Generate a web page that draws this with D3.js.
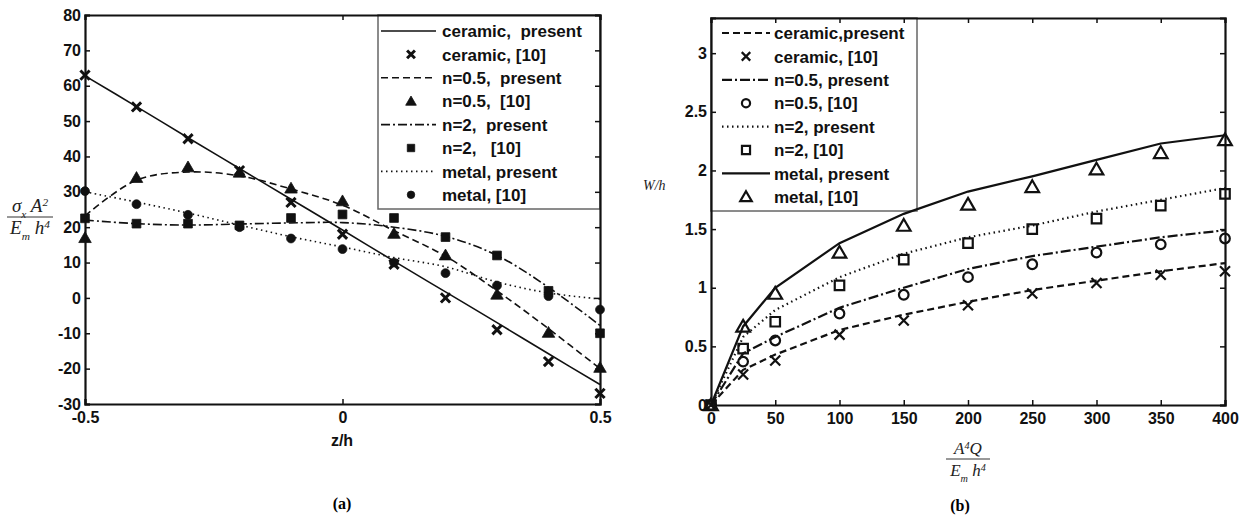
<!DOCTYPE html>
<html>
<head>
<meta charset="utf-8">
<script src="https://cdn.jsdelivr.net/npm/d3@7"></script>
<style>
  body { margin: 0; background: #fff; }
  svg { display: block; }
  .tick text { font-family: "Liberation Sans", Arial, sans-serif; font-weight: bold; font-size: 16px; fill: #111; }
  .lg { font-family: "Liberation Sans", Arial, sans-serif; font-weight: bold; font-size: 17px; fill: #111; white-space: pre; }
  .math { font-family: "Liberation Serif", "Times New Roman", serif; font-style: italic; fill: #222; }
</style>
</head>
<body>
<script>
// ---- panel (a): stress through thickness ----
var zA = [-0.5, -0.4, -0.3, -0.2, -0.1, 0, 0.1, 0.2, 0.3, 0.4, 0.5];
var ceramicPresentA = [62.8, 54.1, 45.3, 36.6, 27.9, 19.2, 10.4, 1.7, -7.0, -15.8, -24.5];
var ceramicRefA     = [63, 54, 45, 36, 27, 18, 9.5, 0, -9, -18, -27];
var n05PresentA     = [23.2, 33.3, 35.6, 34.5, 30.8, 26.2, 19, 11.8, 2, -8.7, -20];
var n05RefA         = [17, 34, 37, 35.5, 31, 27.4, 18.2, 12.1, 1, -9.8, -19.7];
var n2PresentA      = [22, 21, 20.6, 20.9, 21.2, 21.3, 20, 17.4, 12, 3, -7.8];
var n2RefA          = [22.5, 21, 21, 20.5, 22.6, 23.6, 22.6, 17.2, 12, 2, -10];
var metalPresentA   = [30, 27.1, 24, 20.6, 17.3, 14.4, 11.4, 8.8, 4.5, 1.4, -0.3];
var metalRefA       = [30.2, 26.5, 23.5, 20, 16.8, 13.8, 10, 7, 3.5, 0.5, -3.3];
var xTicksA = [-0.5, 0, 0.5];
var yTicksA = [-30, -20, -10, 0, 10, 20, 30, 40, 50, 60, 70, 80];
var legendA = ["ceramic,  present", "ceramic, [10]", "n=0.5,  present", "n=0.5,  [10]",
               "n=2,  present", "n=2,   [10]", "metal, present", "metal, [10]"];

// ---- panel (b): deflection vs load ----
var qB = [0, 25, 50, 100, 150, 200, 250, 300, 350, 400];
var ceramicPresentB = [0, 0.3, 0.43, 0.64, 0.77, 0.88, 0.98, 1.06, 1.14, 1.21];
var ceramicRefB     = [0, 0.26, 0.38, 0.6, 0.72, 0.85, 0.95, 1.04, 1.11, 1.14];
var n05PresentB     = [0, 0.44, 0.58, 0.83, 1.0, 1.16, 1.27, 1.35, 1.43, 1.49];
var n05RefB         = [0, 0.37, 0.55, 0.78, 0.94, 1.09, 1.2, 1.3, 1.37, 1.42];
var n2PresentB      = [0, 0.58, 0.81, 1.09, 1.29, 1.43, 1.53, 1.65, 1.75, 1.85];
var n2RefB          = [0, 0.48, 0.71, 1.02, 1.24, 1.38, 1.5, 1.59, 1.7, 1.8];
var metalPresentB   = [0, 0.67, 1.0, 1.38, 1.63, 1.82, 1.95, 2.09, 2.23, 2.3];
var metalRefB       = [0, 0.67, 0.95, 1.3, 1.53, 1.71, 1.86, 2.01, 2.15, 2.26];
var xTicksB = [0, 50, 100, 150, 200, 250, 300, 350, 400];
var yTicksB = [0, 0.5, 1, 1.5, 2, 2.5, 3];
var legendB = ["ceramic,present", "ceramic, [10]", "n=0.5, present", "n=0.5, [10]",
               "n=2, present", "n=2, [10]", "metal, present", "metal, [10]"];

var svg = d3.select("body").append("svg")
  .attr("width", 1248).attr("height", 517);

var DASH = "7,4", DASHDOT = "9,3,2,3", DOT = "1.5,3.5";

// marker shapes
function marker(g, kind, x, y, filled, sz) {
  var s = sz || 4.5;
  if (kind == "x") {
    g.append("path")
      .attr("d", "M" + (x - s) + "," + (y - s) + "L" + (x + s) + "," + (y + s) +
                 "M" + (x - s) + "," + (y + s) + "L" + (x + s) + "," + (y - s))
      .attr("stroke", "#111").attr("stroke-width", filled ? 3 : 2.2).attr("fill", "none");
    return;
  }
  var sym = { tri: d3.symbolTriangle, sq: d3.symbolSquare, circ: d3.symbolCircle }[kind];
  var area = { tri: s * s * 3.2, sq: s * s * 3.6, circ: s * s * 2.9 }[kind];
  var dy = kind == "tri" ? s * 0.25 : 0;
  g.append("path")
    .attr("d", d3.symbol().type(sym).size(area)())
    .attr("transform", "translate(" + x + "," + (y + dy) + ")")
    .attr("fill", filled ? "#111" : "none")
    .attr("stroke", "#111")
    .attr("stroke-width", filled ? 0.8 : 2.2);
}

function drawPanel(p) {
  var g = svg.append("g");
  var x = d3.scaleLinear().domain(p.xDomain).range([p.x0, p.x1]);
  var y = d3.scaleLinear().domain(p.yDomain).range([p.y0, p.y1]);

  // legend box first so curves pass over the frame edge like in the figure
  var lg = g.append("g");
  lg.append("rect")
    .attr("x", p.lg.x).attr("y", p.lg.y).attr("width", p.lg.w).attr("height", p.lg.h)
    .attr("fill", "#fff").attr("stroke", "#666").attr("stroke-width", 1.5);

  // curves
  var line = d3.line()
    .x(function(d) { return x(d[0]); })
    .y(function(d) { return y(d[1]); })
    .curve(p.curve);
  p.series.forEach(function(s) {
    if (s.vals == null) return;
    g.append("path")
      .datum(p.xs.map(function(v, i) { return [v, s.vals[i]]; }))
      .attr("d", line)
      .attr("fill", "none")
      .attr("stroke", "#111")
      .attr("stroke-width", p.lw)
      .attr("stroke-dasharray", s.dash || null);
  });
  // reference markers
  p.series.forEach(function(s) {
    if (s.ref == null) return;
    s.ref.forEach(function(v, i) {
      marker(g, s.mk, x(p.xs[i]), y(v), p.filled, p.msz);
    });
  });

  // legend entries
  legendRows(g, p);

  // axes with inward ticks, full box
  var fmt = p.fmt;
  g.append("g").attr("transform", "translate(" + p.x0 + ",0)")
    .call(d3.axisLeft(y).tickValues(p.yTicks).tickSize(-5).tickPadding(4).tickFormat(fmt));
  g.append("g").attr("transform", "translate(" + p.x1 + ",0)")
    .call(d3.axisRight(y).tickValues(p.yTicks).tickSize(-5).tickFormat(""));
  g.append("g").attr("transform", "translate(0," + p.y0 + ")")
    .call(d3.axisBottom(x).tickValues(p.xTicks).tickSize(-5).tickPadding(8).tickFormat(fmt));
  g.append("g").attr("transform", "translate(0," + p.y1 + ")")
    .call(d3.axisTop(x).tickValues(p.xTicks).tickSize(-5).tickFormat(""));
  g.selectAll(".domain").attr("stroke", "#111").attr("stroke-width", 2.2);
  g.selectAll(".tick line").attr("stroke", "#111").attr("stroke-width", 1.5);
  g.selectAll(".tick text").attr("font-family", null).attr("font-size", null);
  return { x: x, y: y };
}

function legendRows(g, p) {
  var L = p.lg;
  var rows = [];
  p.series.forEach(function(s) {
    rows.push({ type: "line", s: s });
    rows.push({ type: "mark", s: s });
  });
  rows.forEach(function(r, i) {
    var cy = L.row0 + i * L.step;
    if (r.type == "line") {
      g.append("line")
        .attr("x1", L.lx0).attr("x2", L.lx1).attr("y1", cy).attr("y2", cy)
        .attr("stroke", "#111").attr("stroke-width", p.lw)
        .attr("stroke-dasharray", r.s.dash || null);
    } else {
      marker(g, r.s.mk, L.mx, cy, p.filled, p.msz * 0.85);
    }
    g.append("text").attr("class", "lg")
      .attr("x", L.tx).attr("y", cy).attr("dy", "0.36em")
      .text(p.labels[i]);
  });
}

function hyphen(d) { return String(d).replace("\u2212", "-"); }

// panel (a)
drawPanel({
  xDomain: [-0.5, 0.5], yDomain: [-30, 80],
  x0: 85, x1: 600, y0: 404, y1: 15,
  xs: zA, xTicks: xTicksA, yTicks: yTicksA, fmt: hyphen,
  curve: d3.curveCatmullRom, lw: 1.6, filled: true, msz: 4.6,
  labels: legendA,
  lg: { x: 378, y: 15, w: 222, h: 194, row0: 31, step: 23.4, lx0: 381, lx1: 436, mx: 411, tx: 442 },
  series: [
    { vals: ceramicPresentA, ref: ceramicRefA, dash: null, mk: "x" },
    { vals: n05PresentA, ref: n05RefA, dash: DASH, mk: "tri" },
    { vals: n2PresentA, ref: n2RefA, dash: DASHDOT, mk: "sq" },
    { vals: metalPresentA, ref: metalRefA, dash: DOT, mk: "circ" }
  ]
});

// panel (b)
drawPanel({
  xDomain: [0, 400], yDomain: [0, 3.3],
  x0: 711, x1: 1225, y0: 405, y1: 18,
  xs: qB, xTicks: xTicksB, yTicks: yTicksB, fmt: hyphen,
  curve: d3.curveLinear, lw: 2.2, filled: false, msz: 5,
  labels: legendB,
  lg: { x: 711, y: 18, w: 206, h: 193, row0: 33, step: 23.4, lx0: 722, lx1: 770, mx: 746, tx: 774 },
  series: [
    { vals: ceramicPresentB, ref: ceramicRefB, dash: DASH, mk: "x" },
    { vals: n05PresentB, ref: n05RefB, dash: "10,3,2,3", mk: "circ" },
    { vals: n2PresentB, ref: n2RefB, dash: DOT, mk: "sq" },
    { vals: metalPresentB, ref: metalRefB, dash: null, mk: "tri" }
  ]
});

// axis titles
svg.append("text").attr("class", "lg").attr("x", 342).attr("y", 446)
  .attr("text-anchor", "middle").style("font-size", "16px").text("z/h");

function fraction(cx, top, num, den, size, w) {
  var t1 = svg.append("text").attr("class", "math").attr("x", cx).attr("y", top)
    .attr("text-anchor", "middle").style("font-size", size + "px");
  num.forEach(function(p) {
    t1.append("tspan").attr("baseline-shift", p[1] || null)
      .style("font-size", p[1] ? (size * 0.6) + "px" : null).text(p[0]);
  });
  svg.append("line").attr("x1", cx - w / 2).attr("x2", cx + w / 2)
    .attr("y1", top + 5).attr("y2", top + 5).attr("stroke", "#333").attr("stroke-width", 1);
  var t2 = svg.append("text").attr("class", "math").attr("x", cx).attr("y", top + 22)
    .attr("text-anchor", "middle").style("font-size", size + "px");
  den.forEach(function(p) {
    t2.append("tspan").attr("baseline-shift", p[1] || null)
      .style("font-size", p[1] ? (size * 0.6) + "px" : null).text(p[0]);
  });
}

fraction(30, 212, [["σ"], ["x", "sub"], [" A"], ["2", "super"]],
                  [["E"], ["m", "sub"], [" h"], ["4", "super"]], 19, 46);
fraction(968, 454, [["A"], ["4", "super"], ["Q"]],
                   [["E"], ["m", "sub"], [" h"], ["4", "super"]], 17, 44);

svg.append("text").attr("class", "math").attr("x", 643).attr("y", 190)
  .style("font-size", "14px").text("W/h");

svg.append("text").attr("x", 342).attr("y", 509).attr("text-anchor", "middle")
  .attr("font-family", "Liberation Serif, serif").attr("font-weight", "bold")
  .attr("font-size", 16).text("(a)");
svg.append("text").attr("x", 960).attr("y", 511).attr("text-anchor", "middle")
  .attr("font-family", "Liberation Serif, serif").attr("font-weight", "bold")
  .attr("font-size", 16).text("(b)");
</script>
</body>
</html>
